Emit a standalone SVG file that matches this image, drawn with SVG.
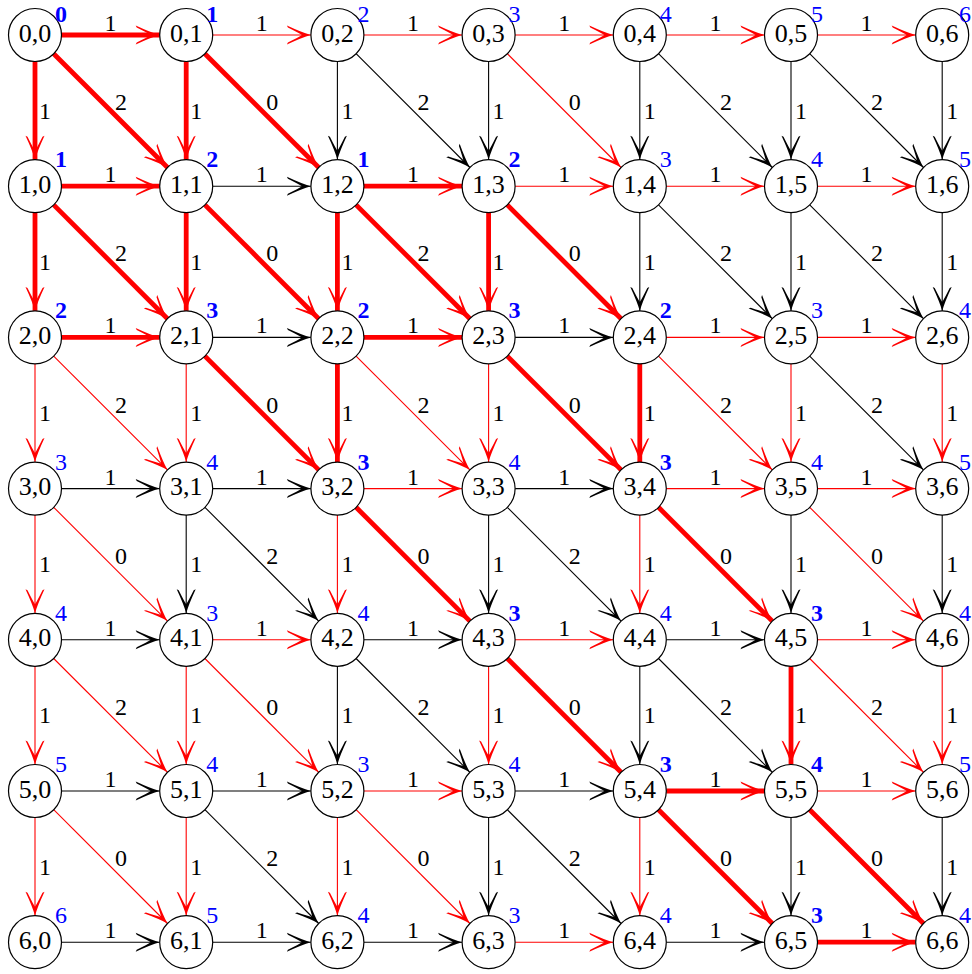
<svg xmlns="http://www.w3.org/2000/svg" width="972" height="974" viewBox="0 0 972 974" font-family="'Liberation Serif', 'Times New Roman', serif">
<style>
text{font-family:"Liberation Serif","Times New Roman",serif;text-anchor:middle}
.k{stroke:#000;stroke-width:1.1;marker-end:url(#ak)}
.r{stroke:#f00;stroke-width:1.1;marker-end:url(#ar)}
.t{stroke:#f00;stroke-width:4.8;marker-end:url(#ar)}
.w{font-size:24px;fill:#000}
.nd circle{fill:#fff;stroke:#000;stroke-width:1.2}
.nl{font-size:26px;fill:#000}
.dv{font-size:24px;fill:#00f}
.db{font-size:24px;fill:#00f;font-weight:bold}
</style>
<defs>
<marker id="ak" markerUnits="userSpaceOnUse" viewBox="-26 -11 28 22" markerWidth="28" markerHeight="22" refX="0" refY="0" orient="auto">
<path d="M0,0 Q-9,-2.5 -24,-9.5 L-23,-7.5 Q-12,-2 -9,0 Q-12,2 -23,7.5 L-24,9.5 Q-9,2.5 0,0 Z" fill="#000"/>
</marker>
<marker id="ar" markerUnits="userSpaceOnUse" viewBox="-26 -11 28 22" markerWidth="28" markerHeight="22" refX="0" refY="0" orient="auto">
<path d="M0,0 Q-9,-2.5 -24,-9.5 L-23,-7.5 Q-12,-2 -9,0 Q-12,2 -23,7.5 L-24,9.5 Q-9,2.5 0,0 Z" fill="#f00"/>
</marker>
</defs>
<g id="connectors">
<g id="black-edges">
<line class="k" x1="212.7" y1="186.2" x2="310.9" y2="186.2"/>
<line class="k" x1="212.7" y1="337.4" x2="310.9" y2="337.4"/>
<line class="k" x1="515.1" y1="337.4" x2="613.3" y2="337.4"/>
<line class="k" x1="61.5" y1="488.6" x2="159.7" y2="488.6"/>
<line class="k" x1="212.7" y1="488.6" x2="310.9" y2="488.6"/>
<line class="k" x1="515.1" y1="488.6" x2="613.3" y2="488.6"/>
<line class="k" x1="61.5" y1="639.8" x2="159.7" y2="639.8"/>
<line class="k" x1="363.9" y1="639.8" x2="462.1" y2="639.8"/>
<line class="k" x1="666.3" y1="639.8" x2="764.5" y2="639.8"/>
<line class="k" x1="61.5" y1="791" x2="159.7" y2="791"/>
<line class="k" x1="212.7" y1="791" x2="310.9" y2="791"/>
<line class="k" x1="515.1" y1="791" x2="613.3" y2="791"/>
<line class="k" x1="61.5" y1="942.2" x2="159.7" y2="942.2"/>
<line class="k" x1="212.7" y1="942.2" x2="310.9" y2="942.2"/>
<line class="k" x1="363.9" y1="942.2" x2="462.1" y2="942.2"/>
<line class="k" x1="666.3" y1="942.2" x2="764.5" y2="942.2"/>
<line class="k" x1="337.4" y1="61.5" x2="337.4" y2="159.7"/>
<line class="k" x1="488.6" y1="61.5" x2="488.6" y2="159.7"/>
<line class="k" x1="639.8" y1="61.5" x2="639.8" y2="159.7"/>
<line class="k" x1="791" y1="61.5" x2="791" y2="159.7"/>
<line class="k" x1="942.2" y1="61.5" x2="942.2" y2="159.7"/>
<line class="k" x1="639.8" y1="212.7" x2="639.8" y2="310.9"/>
<line class="k" x1="791" y1="212.7" x2="791" y2="310.9"/>
<line class="k" x1="942.2" y1="212.7" x2="942.2" y2="310.9"/>
<line class="k" x1="186.2" y1="515.1" x2="186.2" y2="613.3"/>
<line class="k" x1="488.6" y1="515.1" x2="488.6" y2="613.3"/>
<line class="k" x1="791" y1="515.1" x2="791" y2="613.3"/>
<line class="k" x1="942.2" y1="515.1" x2="942.2" y2="613.3"/>
<line class="k" x1="337.4" y1="666.3" x2="337.4" y2="764.5"/>
<line class="k" x1="639.8" y1="666.3" x2="639.8" y2="764.5"/>
<line class="k" x1="488.6" y1="817.5" x2="488.6" y2="915.7"/>
<line class="k" x1="791" y1="817.5" x2="791" y2="915.7"/>
<line class="k" x1="942.2" y1="817.5" x2="942.2" y2="915.7"/>
<line class="k" x1="356.1" y1="53.7" x2="469.9" y2="167.5"/>
<line class="k" x1="658.5" y1="53.7" x2="772.3" y2="167.5"/>
<line class="k" x1="809.7" y1="53.7" x2="923.5" y2="167.5"/>
<line class="k" x1="658.5" y1="204.9" x2="772.3" y2="318.7"/>
<line class="k" x1="809.7" y1="204.9" x2="923.5" y2="318.7"/>
<line class="k" x1="809.7" y1="356.1" x2="923.5" y2="469.9"/>
<line class="k" x1="204.9" y1="507.3" x2="318.7" y2="621.1"/>
<line class="k" x1="507.3" y1="507.3" x2="621.1" y2="621.1"/>
<line class="k" x1="356.1" y1="658.5" x2="469.9" y2="772.3"/>
<line class="k" x1="658.5" y1="658.5" x2="772.3" y2="772.3"/>
<line class="k" x1="204.9" y1="809.7" x2="318.7" y2="923.5"/>
<line class="k" x1="507.3" y1="809.7" x2="621.1" y2="923.5"/>
</g>
<g id="red-edges">
<line class="r" x1="212.7" y1="35" x2="310.9" y2="35"/>
<line class="r" x1="363.9" y1="35" x2="462.1" y2="35"/>
<line class="r" x1="515.1" y1="35" x2="613.3" y2="35"/>
<line class="r" x1="666.3" y1="35" x2="764.5" y2="35"/>
<line class="r" x1="817.5" y1="35" x2="915.7" y2="35"/>
<line class="r" x1="515.1" y1="186.2" x2="613.3" y2="186.2"/>
<line class="r" x1="666.3" y1="186.2" x2="764.5" y2="186.2"/>
<line class="r" x1="817.5" y1="186.2" x2="915.7" y2="186.2"/>
<line class="r" x1="666.3" y1="337.4" x2="764.5" y2="337.4"/>
<line class="r" x1="817.5" y1="337.4" x2="915.7" y2="337.4"/>
<line class="r" x1="363.9" y1="488.6" x2="462.1" y2="488.6"/>
<line class="r" x1="666.3" y1="488.6" x2="764.5" y2="488.6"/>
<line class="r" x1="817.5" y1="488.6" x2="915.7" y2="488.6"/>
<line class="r" x1="212.7" y1="639.8" x2="310.9" y2="639.8"/>
<line class="r" x1="515.1" y1="639.8" x2="613.3" y2="639.8"/>
<line class="r" x1="817.5" y1="639.8" x2="915.7" y2="639.8"/>
<line class="r" x1="363.9" y1="791" x2="462.1" y2="791"/>
<line class="r" x1="817.5" y1="791" x2="915.7" y2="791"/>
<line class="r" x1="515.1" y1="942.2" x2="613.3" y2="942.2"/>
<line class="r" x1="35" y1="363.9" x2="35" y2="462.1"/>
<line class="r" x1="186.2" y1="363.9" x2="186.2" y2="462.1"/>
<line class="r" x1="488.6" y1="363.9" x2="488.6" y2="462.1"/>
<line class="r" x1="791" y1="363.9" x2="791" y2="462.1"/>
<line class="r" x1="942.2" y1="363.9" x2="942.2" y2="462.1"/>
<line class="r" x1="35" y1="515.1" x2="35" y2="613.3"/>
<line class="r" x1="337.4" y1="515.1" x2="337.4" y2="613.3"/>
<line class="r" x1="639.8" y1="515.1" x2="639.8" y2="613.3"/>
<line class="r" x1="35" y1="666.3" x2="35" y2="764.5"/>
<line class="r" x1="186.2" y1="666.3" x2="186.2" y2="764.5"/>
<line class="r" x1="488.6" y1="666.3" x2="488.6" y2="764.5"/>
<line class="r" x1="942.2" y1="666.3" x2="942.2" y2="764.5"/>
<line class="r" x1="35" y1="817.5" x2="35" y2="915.7"/>
<line class="r" x1="186.2" y1="817.5" x2="186.2" y2="915.7"/>
<line class="r" x1="337.4" y1="817.5" x2="337.4" y2="915.7"/>
<line class="r" x1="639.8" y1="817.5" x2="639.8" y2="915.7"/>
<line class="r" x1="507.3" y1="53.7" x2="621.1" y2="167.5"/>
<line class="r" x1="53.7" y1="356.1" x2="167.5" y2="469.9"/>
<line class="r" x1="356.1" y1="356.1" x2="469.9" y2="469.9"/>
<line class="r" x1="658.5" y1="356.1" x2="772.3" y2="469.9"/>
<line class="r" x1="53.7" y1="507.3" x2="167.5" y2="621.1"/>
<line class="r" x1="809.7" y1="507.3" x2="923.5" y2="621.1"/>
<line class="r" x1="53.7" y1="658.5" x2="167.5" y2="772.3"/>
<line class="r" x1="204.9" y1="658.5" x2="318.7" y2="772.3"/>
<line class="r" x1="809.7" y1="658.5" x2="923.5" y2="772.3"/>
<line class="r" x1="53.7" y1="809.7" x2="167.5" y2="923.5"/>
<line class="r" x1="356.1" y1="809.7" x2="469.9" y2="923.5"/>
</g>
<g id="path-edges">
<line class="t" x1="61.5" y1="35" x2="159.7" y2="35"/>
<line class="t" x1="61.5" y1="186.2" x2="159.7" y2="186.2"/>
<line class="t" x1="363.9" y1="186.2" x2="462.1" y2="186.2"/>
<line class="t" x1="61.5" y1="337.4" x2="159.7" y2="337.4"/>
<line class="t" x1="363.9" y1="337.4" x2="462.1" y2="337.4"/>
<line class="t" x1="666.3" y1="791" x2="764.5" y2="791"/>
<line class="t" x1="817.5" y1="942.2" x2="915.7" y2="942.2"/>
<line class="t" x1="35" y1="61.5" x2="35" y2="159.7"/>
<line class="t" x1="186.2" y1="61.5" x2="186.2" y2="159.7"/>
<line class="t" x1="35" y1="212.7" x2="35" y2="310.9"/>
<line class="t" x1="186.2" y1="212.7" x2="186.2" y2="310.9"/>
<line class="t" x1="337.4" y1="212.7" x2="337.4" y2="310.9"/>
<line class="t" x1="488.6" y1="212.7" x2="488.6" y2="310.9"/>
<line class="t" x1="337.4" y1="363.9" x2="337.4" y2="462.1"/>
<line class="t" x1="639.8" y1="363.9" x2="639.8" y2="462.1"/>
<line class="t" x1="791" y1="666.3" x2="791" y2="764.5"/>
<line class="t" x1="53.7" y1="53.7" x2="167.5" y2="167.5"/>
<line class="t" x1="204.9" y1="53.7" x2="318.7" y2="167.5"/>
<line class="t" x1="53.7" y1="204.9" x2="167.5" y2="318.7"/>
<line class="t" x1="204.9" y1="204.9" x2="318.7" y2="318.7"/>
<line class="t" x1="356.1" y1="204.9" x2="469.9" y2="318.7"/>
<line class="t" x1="507.3" y1="204.9" x2="621.1" y2="318.7"/>
<line class="t" x1="204.9" y1="356.1" x2="318.7" y2="469.9"/>
<line class="t" x1="507.3" y1="356.1" x2="621.1" y2="469.9"/>
<line class="t" x1="356.1" y1="507.3" x2="469.9" y2="621.1"/>
<line class="t" x1="658.5" y1="507.3" x2="772.3" y2="621.1"/>
<line class="t" x1="507.3" y1="658.5" x2="621.1" y2="772.3"/>
<line class="t" x1="658.5" y1="809.7" x2="772.3" y2="923.5"/>
<line class="t" x1="809.7" y1="809.7" x2="923.5" y2="923.5"/>
</g>
<g id="edge-labels">
<text class="w" x="110.6" y="31">1</text><text class="w" x="261.8" y="31">1</text><text class="w" x="413" y="31">1</text><text class="w" x="564.2" y="31">1</text><text class="w" x="715.4" y="31">1</text><text class="w" x="866.6" y="31">1</text>
<text class="w" x="110.6" y="182.2">1</text><text class="w" x="261.8" y="182.2">1</text><text class="w" x="413" y="182.2">1</text><text class="w" x="564.2" y="182.2">1</text><text class="w" x="715.4" y="182.2">1</text><text class="w" x="866.6" y="182.2">1</text>
<text class="w" x="110.6" y="333.4">1</text><text class="w" x="261.8" y="333.4">1</text><text class="w" x="413" y="333.4">1</text><text class="w" x="564.2" y="333.4">1</text><text class="w" x="715.4" y="333.4">1</text><text class="w" x="866.6" y="333.4">1</text>
<text class="w" x="110.6" y="484.6">1</text><text class="w" x="261.8" y="484.6">1</text><text class="w" x="413" y="484.6">1</text><text class="w" x="564.2" y="484.6">1</text><text class="w" x="715.4" y="484.6">1</text><text class="w" x="866.6" y="484.6">1</text>
<text class="w" x="110.6" y="635.8">1</text><text class="w" x="261.8" y="635.8">1</text><text class="w" x="413" y="635.8">1</text><text class="w" x="564.2" y="635.8">1</text><text class="w" x="715.4" y="635.8">1</text><text class="w" x="866.6" y="635.8">1</text>
<text class="w" x="110.6" y="787">1</text><text class="w" x="261.8" y="787">1</text><text class="w" x="413" y="787">1</text><text class="w" x="564.2" y="787">1</text><text class="w" x="715.4" y="787">1</text><text class="w" x="866.6" y="787">1</text>
<text class="w" x="110.6" y="938.2">1</text><text class="w" x="261.8" y="938.2">1</text><text class="w" x="413" y="938.2">1</text><text class="w" x="564.2" y="938.2">1</text><text class="w" x="715.4" y="938.2">1</text><text class="w" x="866.6" y="938.2">1</text>
<text class="w" x="45" y="118.6">1</text><text class="w" x="196.2" y="118.6">1</text><text class="w" x="347.4" y="118.6">1</text><text class="w" x="498.6" y="118.6">1</text><text class="w" x="649.8" y="118.6">1</text><text class="w" x="801" y="118.6">1</text><text class="w" x="952.2" y="118.6">1</text>
<text class="w" x="45" y="269.8">1</text><text class="w" x="196.2" y="269.8">1</text><text class="w" x="347.4" y="269.8">1</text><text class="w" x="498.6" y="269.8">1</text><text class="w" x="649.8" y="269.8">1</text><text class="w" x="801" y="269.8">1</text><text class="w" x="952.2" y="269.8">1</text>
<text class="w" x="45" y="421">1</text><text class="w" x="196.2" y="421">1</text><text class="w" x="347.4" y="421">1</text><text class="w" x="498.6" y="421">1</text><text class="w" x="649.8" y="421">1</text><text class="w" x="801" y="421">1</text><text class="w" x="952.2" y="421">1</text>
<text class="w" x="45" y="572.2">1</text><text class="w" x="196.2" y="572.2">1</text><text class="w" x="347.4" y="572.2">1</text><text class="w" x="498.6" y="572.2">1</text><text class="w" x="649.8" y="572.2">1</text><text class="w" x="801" y="572.2">1</text><text class="w" x="952.2" y="572.2">1</text>
<text class="w" x="45" y="723.4">1</text><text class="w" x="196.2" y="723.4">1</text><text class="w" x="347.4" y="723.4">1</text><text class="w" x="498.6" y="723.4">1</text><text class="w" x="649.8" y="723.4">1</text><text class="w" x="801" y="723.4">1</text><text class="w" x="952.2" y="723.4">1</text>
<text class="w" x="45" y="874.6">1</text><text class="w" x="196.2" y="874.6">1</text><text class="w" x="347.4" y="874.6">1</text><text class="w" x="498.6" y="874.6">1</text><text class="w" x="649.8" y="874.6">1</text><text class="w" x="801" y="874.6">1</text><text class="w" x="952.2" y="874.6">1</text>
<text class="w" x="121.1" y="110.1">2</text><text class="w" x="272.3" y="110.1">0</text><text class="w" x="423.5" y="110.1">2</text><text class="w" x="574.7" y="110.1">0</text><text class="w" x="725.9" y="110.1">2</text><text class="w" x="877.1" y="110.1">2</text>
<text class="w" x="121.1" y="261.3">2</text><text class="w" x="272.3" y="261.3">0</text><text class="w" x="423.5" y="261.3">2</text><text class="w" x="574.7" y="261.3">0</text><text class="w" x="725.9" y="261.3">2</text><text class="w" x="877.1" y="261.3">2</text>
<text class="w" x="121.1" y="412.5">2</text><text class="w" x="272.3" y="412.5">0</text><text class="w" x="423.5" y="412.5">2</text><text class="w" x="574.7" y="412.5">0</text><text class="w" x="725.9" y="412.5">2</text><text class="w" x="877.1" y="412.5">2</text>
<text class="w" x="121.1" y="563.7">0</text><text class="w" x="272.3" y="563.7">2</text><text class="w" x="423.5" y="563.7">0</text><text class="w" x="574.7" y="563.7">2</text><text class="w" x="725.9" y="563.7">0</text><text class="w" x="877.1" y="563.7">0</text>
<text class="w" x="121.1" y="714.9">2</text><text class="w" x="272.3" y="714.9">0</text><text class="w" x="423.5" y="714.9">2</text><text class="w" x="574.7" y="714.9">0</text><text class="w" x="725.9" y="714.9">2</text><text class="w" x="877.1" y="714.9">2</text>
<text class="w" x="121.1" y="866.1">0</text><text class="w" x="272.3" y="866.1">2</text><text class="w" x="423.5" y="866.1">0</text><text class="w" x="574.7" y="866.1">2</text><text class="w" x="725.9" y="866.1">0</text><text class="w" x="877.1" y="866.1">0</text>
</g>
</g>
<g id="nodes" class="nd">
<g id="n00"><circle cx="35" cy="35" r="26.5"/><text class="nl" x="35" y="41.5">0,0</text><text class="db" x="61" y="21.5">0</text></g>
<g id="n01"><circle cx="186.2" cy="35" r="26.5"/><text class="nl" x="186.2" y="41.5">0,1</text><text class="db" x="212.2" y="21.5">1</text></g>
<g id="n02"><circle cx="337.4" cy="35" r="26.5"/><text class="nl" x="337.4" y="41.5">0,2</text><text class="dv" x="363.4" y="21.5">2</text></g>
<g id="n03"><circle cx="488.6" cy="35" r="26.5"/><text class="nl" x="488.6" y="41.5">0,3</text><text class="dv" x="514.6" y="21.5">3</text></g>
<g id="n04"><circle cx="639.8" cy="35" r="26.5"/><text class="nl" x="639.8" y="41.5">0,4</text><text class="dv" x="665.8" y="21.5">4</text></g>
<g id="n05"><circle cx="791" cy="35" r="26.5"/><text class="nl" x="791" y="41.5">0,5</text><text class="dv" x="817" y="21.5">5</text></g>
<g id="n06"><circle cx="942.2" cy="35" r="26.5"/><text class="nl" x="942.2" y="41.5">0,6</text><text class="dv" x="965" y="21.5">6</text></g>
<g id="n10"><circle cx="35" cy="186.2" r="26.5"/><text class="nl" x="35" y="192.7">1,0</text><text class="db" x="61" y="167.2">1</text></g>
<g id="n11"><circle cx="186.2" cy="186.2" r="26.5"/><text class="nl" x="186.2" y="192.7">1,1</text><text class="db" x="212.2" y="167.2">2</text></g>
<g id="n12"><circle cx="337.4" cy="186.2" r="26.5"/><text class="nl" x="337.4" y="192.7">1,2</text><text class="db" x="363.4" y="167.2">1</text></g>
<g id="n13"><circle cx="488.6" cy="186.2" r="26.5"/><text class="nl" x="488.6" y="192.7">1,3</text><text class="db" x="514.6" y="167.2">2</text></g>
<g id="n14"><circle cx="639.8" cy="186.2" r="26.5"/><text class="nl" x="639.8" y="192.7">1,4</text><text class="dv" x="665.8" y="167.2">3</text></g>
<g id="n15"><circle cx="791" cy="186.2" r="26.5"/><text class="nl" x="791" y="192.7">1,5</text><text class="dv" x="817" y="167.2">4</text></g>
<g id="n16"><circle cx="942.2" cy="186.2" r="26.5"/><text class="nl" x="942.2" y="192.7">1,6</text><text class="dv" x="965" y="167.2">5</text></g>
<g id="n20"><circle cx="35" cy="337.4" r="26.5"/><text class="nl" x="35" y="343.9">2,0</text><text class="db" x="61" y="318.4">2</text></g>
<g id="n21"><circle cx="186.2" cy="337.4" r="26.5"/><text class="nl" x="186.2" y="343.9">2,1</text><text class="db" x="212.2" y="318.4">3</text></g>
<g id="n22"><circle cx="337.4" cy="337.4" r="26.5"/><text class="nl" x="337.4" y="343.9">2,2</text><text class="db" x="363.4" y="318.4">2</text></g>
<g id="n23"><circle cx="488.6" cy="337.4" r="26.5"/><text class="nl" x="488.6" y="343.9">2,3</text><text class="db" x="514.6" y="318.4">3</text></g>
<g id="n24"><circle cx="639.8" cy="337.4" r="26.5"/><text class="nl" x="639.8" y="343.9">2,4</text><text class="db" x="665.8" y="318.4">2</text></g>
<g id="n25"><circle cx="791" cy="337.4" r="26.5"/><text class="nl" x="791" y="343.9">2,5</text><text class="dv" x="817" y="318.4">3</text></g>
<g id="n26"><circle cx="942.2" cy="337.4" r="26.5"/><text class="nl" x="942.2" y="343.9">2,6</text><text class="dv" x="965" y="318.4">4</text></g>
<g id="n30"><circle cx="35" cy="488.6" r="26.5"/><text class="nl" x="35" y="495.1">3,0</text><text class="dv" x="61" y="469.6">3</text></g>
<g id="n31"><circle cx="186.2" cy="488.6" r="26.5"/><text class="nl" x="186.2" y="495.1">3,1</text><text class="dv" x="212.2" y="469.6">4</text></g>
<g id="n32"><circle cx="337.4" cy="488.6" r="26.5"/><text class="nl" x="337.4" y="495.1">3,2</text><text class="db" x="363.4" y="469.6">3</text></g>
<g id="n33"><circle cx="488.6" cy="488.6" r="26.5"/><text class="nl" x="488.6" y="495.1">3,3</text><text class="dv" x="514.6" y="469.6">4</text></g>
<g id="n34"><circle cx="639.8" cy="488.6" r="26.5"/><text class="nl" x="639.8" y="495.1">3,4</text><text class="db" x="665.8" y="469.6">3</text></g>
<g id="n35"><circle cx="791" cy="488.6" r="26.5"/><text class="nl" x="791" y="495.1">3,5</text><text class="dv" x="817" y="469.6">4</text></g>
<g id="n36"><circle cx="942.2" cy="488.6" r="26.5"/><text class="nl" x="942.2" y="495.1">3,6</text><text class="dv" x="965" y="469.6">5</text></g>
<g id="n40"><circle cx="35" cy="639.8" r="26.5"/><text class="nl" x="35" y="646.3">4,0</text><text class="dv" x="61" y="620.8">4</text></g>
<g id="n41"><circle cx="186.2" cy="639.8" r="26.5"/><text class="nl" x="186.2" y="646.3">4,1</text><text class="dv" x="212.2" y="620.8">3</text></g>
<g id="n42"><circle cx="337.4" cy="639.8" r="26.5"/><text class="nl" x="337.4" y="646.3">4,2</text><text class="dv" x="363.4" y="620.8">4</text></g>
<g id="n43"><circle cx="488.6" cy="639.8" r="26.5"/><text class="nl" x="488.6" y="646.3">4,3</text><text class="db" x="514.6" y="620.8">3</text></g>
<g id="n44"><circle cx="639.8" cy="639.8" r="26.5"/><text class="nl" x="639.8" y="646.3">4,4</text><text class="dv" x="665.8" y="620.8">4</text></g>
<g id="n45"><circle cx="791" cy="639.8" r="26.5"/><text class="nl" x="791" y="646.3">4,5</text><text class="db" x="817" y="620.8">3</text></g>
<g id="n46"><circle cx="942.2" cy="639.8" r="26.5"/><text class="nl" x="942.2" y="646.3">4,6</text><text class="dv" x="965" y="620.8">4</text></g>
<g id="n50"><circle cx="35" cy="791" r="26.5"/><text class="nl" x="35" y="797.5">5,0</text><text class="dv" x="61" y="772">5</text></g>
<g id="n51"><circle cx="186.2" cy="791" r="26.5"/><text class="nl" x="186.2" y="797.5">5,1</text><text class="dv" x="212.2" y="772">4</text></g>
<g id="n52"><circle cx="337.4" cy="791" r="26.5"/><text class="nl" x="337.4" y="797.5">5,2</text><text class="dv" x="363.4" y="772">3</text></g>
<g id="n53"><circle cx="488.6" cy="791" r="26.5"/><text class="nl" x="488.6" y="797.5">5,3</text><text class="dv" x="514.6" y="772">4</text></g>
<g id="n54"><circle cx="639.8" cy="791" r="26.5"/><text class="nl" x="639.8" y="797.5">5,4</text><text class="db" x="665.8" y="772">3</text></g>
<g id="n55"><circle cx="791" cy="791" r="26.5"/><text class="nl" x="791" y="797.5">5,5</text><text class="db" x="817" y="772">4</text></g>
<g id="n56"><circle cx="942.2" cy="791" r="26.5"/><text class="nl" x="942.2" y="797.5">5,6</text><text class="dv" x="965" y="772">5</text></g>
<g id="n60"><circle cx="35" cy="942.2" r="26.5"/><text class="nl" x="35" y="948.7">6,0</text><text class="dv" x="61" y="923.2">6</text></g>
<g id="n61"><circle cx="186.2" cy="942.2" r="26.5"/><text class="nl" x="186.2" y="948.7">6,1</text><text class="dv" x="212.2" y="923.2">5</text></g>
<g id="n62"><circle cx="337.4" cy="942.2" r="26.5"/><text class="nl" x="337.4" y="948.7">6,2</text><text class="dv" x="363.4" y="923.2">4</text></g>
<g id="n63"><circle cx="488.6" cy="942.2" r="26.5"/><text class="nl" x="488.6" y="948.7">6,3</text><text class="dv" x="514.6" y="923.2">3</text></g>
<g id="n64"><circle cx="639.8" cy="942.2" r="26.5"/><text class="nl" x="639.8" y="948.7">6,4</text><text class="dv" x="665.8" y="923.2">4</text></g>
<g id="n65"><circle cx="791" cy="942.2" r="26.5"/><text class="nl" x="791" y="948.7">6,5</text><text class="db" x="817" y="923.2">3</text></g>
<g id="n66"><circle cx="942.2" cy="942.2" r="26.5"/><text class="nl" x="942.2" y="948.7">6,6</text><text class="dv" x="965" y="923.2">4</text></g>
</g>
</svg>
